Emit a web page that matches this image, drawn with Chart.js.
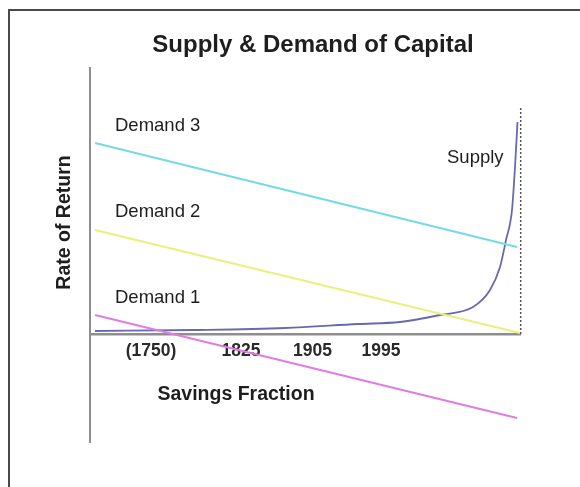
<!DOCTYPE html>
<html><head><meta charset="utf-8">
<script src="https://cdn.jsdelivr.net/npm/chart.js@4"></script>
<style>html,body{margin:0;padding:0;background:#fff;}#wrap{width:580px;height:487px;}</style>
</head><body><div id="wrap"><canvas id="c" width="580" height="487"></canvas></div>
<script>
// ---- data (x: savings fraction, arbitrary units; y: rate of return, arbitrary units) ----
const demand3X = [0.5, 42.7];
const demand3Y = [19.1, 8.7];
const demand2X = [0.5, 43.0];
const demand2Y = [10.4, 0.1];
const demand1X = [0.5, 42.7];
const demand1Y = [1.9, -8.4];
const supplyX = [0.5, 10.5, 19.5, 26.8, 31, 35, 38.3, 40, 41, 41.6, 42.2, 42.5, 42.75];
const supplyY = [0.3, 0.4, 0.6, 1.0, 1.2, 1.9, 2.7, 4.4, 6.7, 9.4, 12.4, 16.7, 21.2];
const limitX = [43.07, 43.07];
const limitY = [0, 22.6];
const tickValues = [6.1, 15.1, 22.25, 29.1];
const tickLabels = ['(1750)', '1825', '1905', '1995'];
const seriesNames = ['Demand 3', 'Demand 2', 'Demand 1', 'Supply'];

const FONT = '"Liberation Sans", Arial, sans-serif';
const pts = (xs, ys) => xs.map((x, i) => ({x, y: ys[i]}));

const framePlugin = {
  id: 'frame',
  beforeDraw(chart) {
    const ctx = chart.ctx;
    ctx.save();
    ctx.fillStyle = '#fff';
    ctx.fillRect(0, 0, chart.width, chart.height);
    ctx.strokeStyle = '#4a4a4a';
    ctx.lineWidth = 2;
    ctx.beginPath();
    ctx.moveTo(9, chart.height);
    ctx.lineTo(9, 10);
    ctx.lineTo(chart.width, 10);
    ctx.stroke();
    ctx.restore();
  }
};

const textPlugin = {
  id: 'texts',
  afterDraw(chart) {
    const ctx = chart.ctx, xs = chart.scales.x, ys = chart.scales.y;
    ctx.save();
    ctx.fillStyle = '#1e1e1e';
    ctx.textBaseline = 'alphabetic';
    // main title
    ctx.font = 'bold 24px ' + FONT;
    ctx.textAlign = 'center';
    ctx.fillText('Supply & Demand of Capital', 313, 52);
    // x axis title
    ctx.font = 'bold 19.5px ' + FONT;
    ctx.fillText('Savings Fraction', 236, 400);
    // y axis title
    ctx.save();
    ctx.translate(70, 222.5);
    ctx.rotate(-Math.PI / 2);
    ctx.fillText('Rate of Return', 0, 0);
    ctx.restore();
    // series labels
    ctx.font = '18.5px ' + FONT;
    ctx.textAlign = 'left';
    const anchors = [[2.5, 20.3], [2.5, 11.7], [2.5, 3.1], [35.7, 17.1]];
    seriesNames.forEach((name, i) => {
      ctx.fillText(name, xs.getPixelForValue(anchors[i][0]), ys.getPixelForValue(anchors[i][1]));
    });
    ctx.restore();
  }
};

new Chart(document.getElementById('c'), {
  type: 'line',
  data: {
    datasets: [
      {label: seriesNames[0], data: pts(demand3X, demand3Y), borderColor: '#72dbe4', borderWidth: 2},
      {label: seriesNames[1], data: pts(demand2X, demand2Y), borderColor: '#e9f07c', borderWidth: 2},
      {label: seriesNames[2], data: pts(demand1X, demand1Y), borderColor: '#e07ce2', borderWidth: 2},
      {label: seriesNames[3], data: pts(supplyX, supplyY), borderColor: '#6a69ae', borderWidth: 1.8, cubicInterpolationMode: 'monotone'},
      {label: 'limit', data: pts(limitX, limitY), borderColor: '#555', borderWidth: 1.5, borderDash: [2, 2], clip: false}
    ]
  },
  options: {
    responsive: false,
    devicePixelRatio: 1,
    animation: false,
    elements: {point: {radius: 0}, line: {fill: false}},
    layout: {padding: {left: 90, right: 60, top: 68, bottom: 45}},
    plugins: {legend: {display: false}, tooltip: {enabled: false}, title: {display: false}},
    scales: {
      x: {
        type: 'linear',
        min: 0, max: 43,
        position: {y: 0},
        grid: {display: false, drawTicks: false, tickLength: 0},
        border: {display: true, color: '#8e8e8e', width: 2.5},
        afterBuildTicks: (s) => { s.ticks = tickValues.map(v => ({value: v})); },
        ticks: {
          autoSkip: false,
          maxRotation: 0,
          padding: 7,
          color: '#2a2a2a',
          font: {family: FONT, size: 17.5, weight: 'bold'},
          callback: (v) => { const i = tickValues.indexOf(v); return i >= 0 ? tickLabels[i] : ''; }
        }
      },
      y: {
        type: 'linear',
        min: -10.8, max: 26.6,
        position: 'left',
        grid: {display: false, drawTicks: false, tickLength: 0},
        border: {display: true, color: '#8e8e8e', width: 2},
        ticks: {display: false}
      }
    }
  },
  plugins: [framePlugin, textPlugin]
});
</script>
</body></html>
